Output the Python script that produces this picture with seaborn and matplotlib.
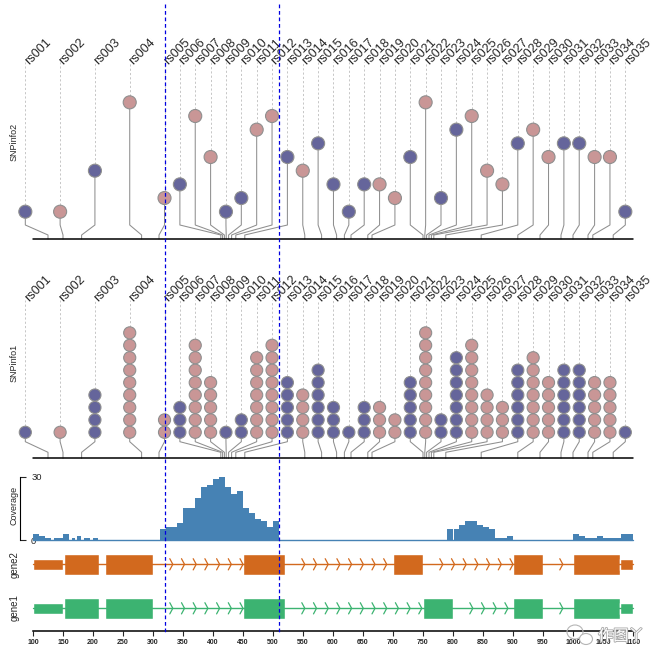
import numpy as np
import pandas as pd
import matplotlib.pyplot as plt
import matplotlib.patheffects as pe
from matplotlib.patches import Ellipse
import seaborn as sns

# ---- data -------------------------------------------------------------
snp_ids = ["rs001", "rs002", "rs003", "rs004", "rs005", "rs006", "rs007",
           "rs008", "rs009", "rs010", "rs011", "rs012", "rs013", "rs014",
           "rs015", "rs016", "rs017", "rs018", "rs019", "rs020", "rs021",
           "rs022", "rs023", "rs024", "rs025", "rs026", "rs027", "rs028",
           "rs029", "rs030", "rs031", "rs032", "rs033", "rs034", "rs035"]
snp_pos = [125, 150, 181, 281, 310, 413, 416, 419, 422, 426, 431, 438, 453,
           553, 581, 606, 619, 630, 658, 665, 750, 753, 756, 760, 764, 768,
           788, 847, 908, 945, 980, 1000, 1025, 1033, 1067]
snp_score = [1, 1, 4, 9, 2, 3, 8, 5, 1, 2, 7, 8, 5, 4, 6, 3, 1, 3, 3, 2, 5,
             9, 2, 7, 8, 4, 3, 6, 7, 5, 6, 6, 5, 5, 1]
snp_group = ["A", "B", "A", "B", "B", "A", "B", "B", "A", "A", "B", "B", "A",
             "B", "A", "A", "A", "A", "B", "B", "A", "B", "A", "A", "B", "B",
             "B", "A", "B", "B", "A", "A", "B", "B", "A"]

cov_edges = [100, 110, 120, 130, 135, 150, 160, 165, 170, 173, 180, 185, 195,
             200, 208, 312, 321, 340, 350, 370, 380, 390, 400, 410, 420, 430,
             440, 450, 460, 470, 480, 490, 500, 510, 790, 800, 802, 810, 820,
             840, 850, 860, 870, 890, 900, 1000, 1010, 1020, 1040, 1050, 1080,
             1100]
cov_values = [3, 2, 1, 0, 1, 3, 0, 1, 0, 2, 0, 1, 0, 1, 0, 5, 6, 8, 15, 20,
              25, 26, 29, 30, 25, 22, 23, 15, 13, 10, 9, 6, 9, 0, 5, 0, 5, 7,
              9, 7, 6, 5, 1, 2, 0, 3, 2, 1, 2, 1, 3]

gene1_cds = [(151, 210), (220, 300), (450, 520), (750, 800), (900, 950), (1000, 1078)]
gene1_utr = [(100, 150), (1079, 1100)]
gene2_cds = [(151, 210), (220, 300), (450, 520), (700, 750), (900, 950), (1000, 1078)]
gene2_utr = [(100, 150), (1079, 1100)]

highlight = [320, 510]
x_ticks = [100, 150, 200, 250, 300, 350, 400, 450, 500, 550, 600, 650, 700,
           750, 800, 850, 900, 950, 1000, 1050, 1100]

group_colors = {"A": "#65659b", "B": "#c99696"}
EDGE = "#8f8f8f"
W, H = 666, 665
XLIM = (45, 1155)   # 0.6 px per bp, 100 bp at x=33px
PX = 1 / 0.6        # one pixel in bp

sns.set_theme(style="white", rc={"axes.facecolor": (0, 0, 0, 0)})
plt.rcParams["font.family"] = ["Liberation Sans", "DejaVu Sans"]

fig = plt.figure(figsize=(W / 100, H / 100), dpi=100)


def track(top, bottom, off=True):
    ax = fig.add_axes([0, 1 - bottom / H, 1, (bottom - top) / H])
    if off:
        ax.set_axis_off()
    return ax


def node_positions(pos, gap, lo, hi):
    """push lollipop heads apart, spread the loose ones on the left"""
    x = np.asarray(pos, float).copy()
    for i in range(1, len(x)):
        x[i] = max(x[i], x[i - 1] + gap)
    x[-1] = min(x[-1], hi)
    for i in range(len(x) - 2, -1, -1):
        x[i] = min(x[i], x[i + 1] - gap)
    j = len(x) - 1
    while j > 0 and x[j] - x[j - 1] < 1.4 * gap:
        x[j - 1] = x[j] - gap
        j -= 1
    x[:j] = np.linspace(lo, x[j], j + 1)[:-1]
    return x


disp = node_positions(snp_pos, 25.6, 100 - 12.8, 1100 - 12.8)


def lollipop(ax, stacked, base, step, size, radius, elbow, label_y, label_dy, ylim):
    rows = []
    for sid, p, d, sc, g in zip(snp_ids, snp_pos, disp, snp_score, snp_group):
        top = base + (sc - 1) * step
        ax.plot([p, p, d, d], [0, elbow[0], elbow[1], top if not stacked else base],
                color=EDGE, lw=0.75, zorder=1, clip_on=False)
        ax.plot([d, d], [top + radius, label_y], color="#c6c6c6", lw=0.7,
                ls=(0, (2.2, 2.2)), zorder=1)
        ax.text(d + 3.5 * PX, label_y - label_dy, sid, rotation=45,
                rotation_mode="anchor", ha="left", va="baseline", fontsize=9)
        levels = range(sc) if stacked else [sc - 1]
        for k in levels:
            rows.append({"x": d, "y": base + k * step, "group": g})
    df = pd.DataFrame(rows)
    sns.scatterplot(data=df, x="x", y="y", hue="group", palette=group_colors,
                    s=size, edgecolor=EDGE, linewidth=0.8, legend=False,
                    zorder=3, ax=ax, clip_on=False)
    ax.plot([100, 1100], [0, 0], color="black", lw=1.1, zorder=2)
    ax.set_xlim(*XLIM)
    ax.set_ylim(*ylim)


# SNPinfo2: one head per SNP, height = score
ax_top = track(0, 245)
lollipop(ax_top, False, 27.3, 13.67, 88, 6.7, (4, 14), 177.3, 3.5, (-6, 239))

# SNPinfo1: stacked heads
ax_bot = track(248, 463)
lollipop(ax_bot, True, 26, 12.43, 76, 6.2, (6, 16.6), 158.3, 1.5, (-4.7, 210.3))

# coverage
ax_cov = track(470, 545, off=False)
edges = np.array(cov_edges, float)
cov = pd.DataFrame({"pos": (edges[:-1] + edges[1:]) / 2, "depth": cov_values})
sns.histplot(data=cov, x="pos", weights="depth", bins=list(cov_edges),
             stat="count", element="step", fill=True, color="#4682b4",
             alpha=1, linewidth=0, ax=ax_cov)
ax_cov.plot([100, 1100], [0, 0], color="#4682b4", lw=1.0)
ax_cov.set_xlim(*XLIM)
ax_cov.set_ylim(-2.37, 33.18)
ax_cov.set(xlabel="", ylabel="", xticks=[], yticks=[0, 30])
for s in ["top", "right", "bottom"]:
    ax_cov.spines[s].set_visible(False)
ax_cov.spines["left"].set_position(("data", 20 * PX + XLIM[0]))
ax_cov.spines["left"].set_bounds(0, 30)
ax_cov.spines["left"].set_color("black")
ax_cov.spines["left"].set_linewidth(0.8)
ax_cov.tick_params(axis="y", direction="in", length=4.3, width=0.8,
                   pad=-8, labelsize=6.8, left=True)
plt.setp(ax_cov.get_yticklabels(), ha="left")


def gene(ax, cds, utr, color):
    ax.plot([100, 1100], [0, 0], color=color, lw=1.0)
    ax.broken_barh([(s, e - s) for s, e in cds], (-10.5, 21), facecolors=color)
    ax.broken_barh([(s, e - s) for s, e in utr], (-5.3, 10.6), facecolors=color)
    parts = sorted(cds + utr)
    for (_, end), (start, _) in zip(parts[:-1], parts[1:]):
        x = end + 30.5
        while x < start:
            ax.plot([x - 1.5 * PX, x + 1.5 * PX, x - 1.5 * PX], [5.6, 0, -5.6],
                    color=color, lw=0.9)
            x += 19.5
    ax.set_xlim(*XLIM)
    ax.set_ylim(-15, 15)


gene(track(549.3, 579.3), gene2_cds, gene2_utr, "#d2691e")
gene(track(593.3, 623.3), gene1_cds, gene1_utr, "#3cb371")

# genomic axis
ax_x = fig.add_axes([0, 1 - 631 / H, 1, 5 / H])
for s in ["top", "right", "left"]:
    ax_x.spines[s].set_visible(False)
ax_x.spines["bottom"].set_bounds(100, 1100)
ax_x.spines["bottom"].set_color("black")
ax_x.spines["bottom"].set_linewidth(1.1)
ax_x.set_xlim(*XLIM)
ax_x.set_xticks(x_ticks)
ax_x.set_yticks([])
ax_x.tick_params(axis="x", direction="out", length=3.6, width=0.8, pad=2.5,
                 labelsize=5, bottom=True)
plt.setp(ax_x.get_xticklabels(), fontweight="bold")

# track names
for name, y in [("SNPinfo2", 141.7), ("SNPinfo1", 362.5), ("Coverage", 505.8),
                ("gene2", 564.5), ("gene1", 608)]:
    fig.text(14.5 / W, 1 - y / H, name, rotation=90, ha="center", va="center",
             fontsize=7 if name.startswith("gene") else 6.5)

# highlighted region
ax_o = fig.add_axes([0, 0, 1, 1], facecolor="none")
ax_o.set_axis_off()
ax_o.set_xlim(*XLIM)
ax_o.set_ylim(H, 0)
ax_o.vlines(highlight, 4, 632, colors="#0000e0", linestyles=(0, (3, 2.2)), lw=0.9)

# watermark
ax_o.add_patch(Ellipse((575 * PX + XLIM[0], 632), 16 * PX, 14, fc="none",
                       ec="#b5b5b5", lw=0.8))
ax_o.add_patch(Ellipse((586 * PX + XLIM[0], 639), 13 * PX, 11, fc="white",
                       ec="#b5b5b5", lw=0.8))
fig.text(598 / W, 1 - 636 / H, "作图丫", fontsize=11, color="white",
         family=["Noto Sans CJK SC"], ha="left", va="center",
         path_effects=[pe.withStroke(linewidth=1.2, foreground="#a8a8a8")])

fig.savefig("out.png", dpi=100)
